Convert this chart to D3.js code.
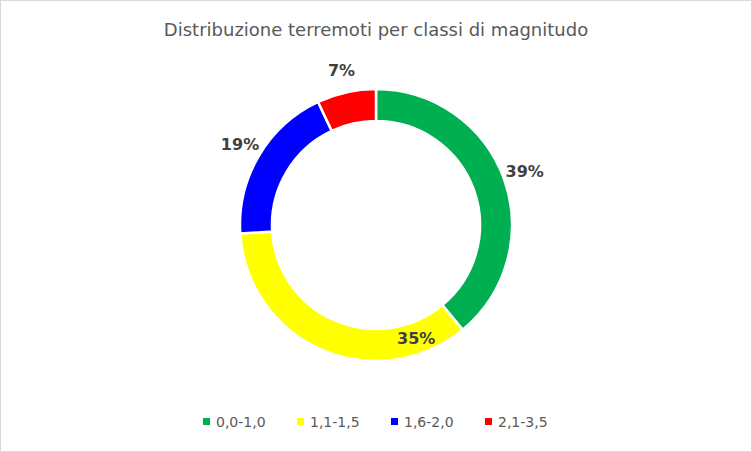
<!DOCTYPE html>
<html lang="it">
<head>
  <meta charset="UTF-8">
  <title>Distribuzione terremoti per classi di magnitudo</title>
  <script src="https://d3js.org/d3.v7.min.js"></script>
  <style>
    body { margin: 0; background: #fff; }
    text { font-family: "DejaVu Sans", Verdana, sans-serif; }
  </style>
</head>
<body>
  <div id="chart"></div>
  <script>
    const classi = ["0,0-1,0", "1,1-1,5", "1,6-2,0", "2,1-3,5"];
    const percentuali = [39, 35, 19, 7];
    const colori = ["#00b050", "#ffff00", "#0000ff", "#ff0000"];

    const W = 752, H = 452;
    const cx = 376, cy = 225, outerR = 136, innerR = 104;

    const svg = d3.select("#chart").append("svg")
      .attr("width", W).attr("height", H);

    svg.append("rect")
      .attr("x", 0.5).attr("y", 0.5).attr("width", W - 1).attr("height", H - 1)
      .attr("fill", "#fff").attr("stroke", "#d9d9d9");

    svg.append("text")
      .attr("x", W / 2).attr("y", 36)
      .attr("text-anchor", "middle")
      .attr("font-size", 18).attr("fill", "#595959")
      .text("Distribuzione terremoti per classi di magnitudo");

    const dataset = classi.map((c, i) => ({ classe: c, valore: percentuali[i], colore: colori[i] }));

    const pie = d3.pie().value(d => d.valore).sort(null);
    const arc = d3.arc().innerRadius(innerR).outerRadius(outerR);
    const labelArc = d3.arc().innerRadius(outerR + 22).outerRadius(outerR + 22);

    const g = svg.append("g").attr("transform", `translate(${cx},${cy})`);
    const arcs = pie(dataset);

    g.selectAll("path")
      .data(arcs)
      .enter().append("path")
      .attr("d", arc)
      .attr("fill", d => d.data.colore)
      .attr("stroke", "#fff")
      .attr("stroke-width", 2.5);

    g.selectAll(".label")
      .data(arcs)
      .enter().append("text")
      .attr("class", "label")
      .attr("transform", d => {
        // etichetta della fetta gialla dentro l'anello, come nell'originale
        const c = d.index === 1 ? d3.arc().innerRadius(outerR - 16).outerRadius(outerR - 16).centroid({ ...d, startAngle: d.startAngle - 0.75, endAngle: d.endAngle - 0.75 }) : labelArc.centroid(d);
        return `translate(${c})`;
      })
      .attr("text-anchor", "middle")
      .attr("dy", "0.35em")
      .attr("font-size", 16).attr("font-weight", "bold").attr("fill", "#404040")
      .text(d => `${d.data.valore}%`);

    const legend = svg.append("g").attr("transform", "translate(203,422)");
    const step = 94;
    dataset.forEach((d, i) => {
      const lg = legend.append("g").attr("transform", `translate(${i * step},0)`);
      lg.append("rect").attr("x", 0).attr("y", -4).attr("width", 7).attr("height", 7).attr("fill", d.colore);
      lg.append("text").attr("x", 13).attr("y", 0).attr("dy", "0.35em")
        .attr("font-size", 14).attr("fill", "#595959").text(d.classe);
    });
  </script>
</body>
</html>
